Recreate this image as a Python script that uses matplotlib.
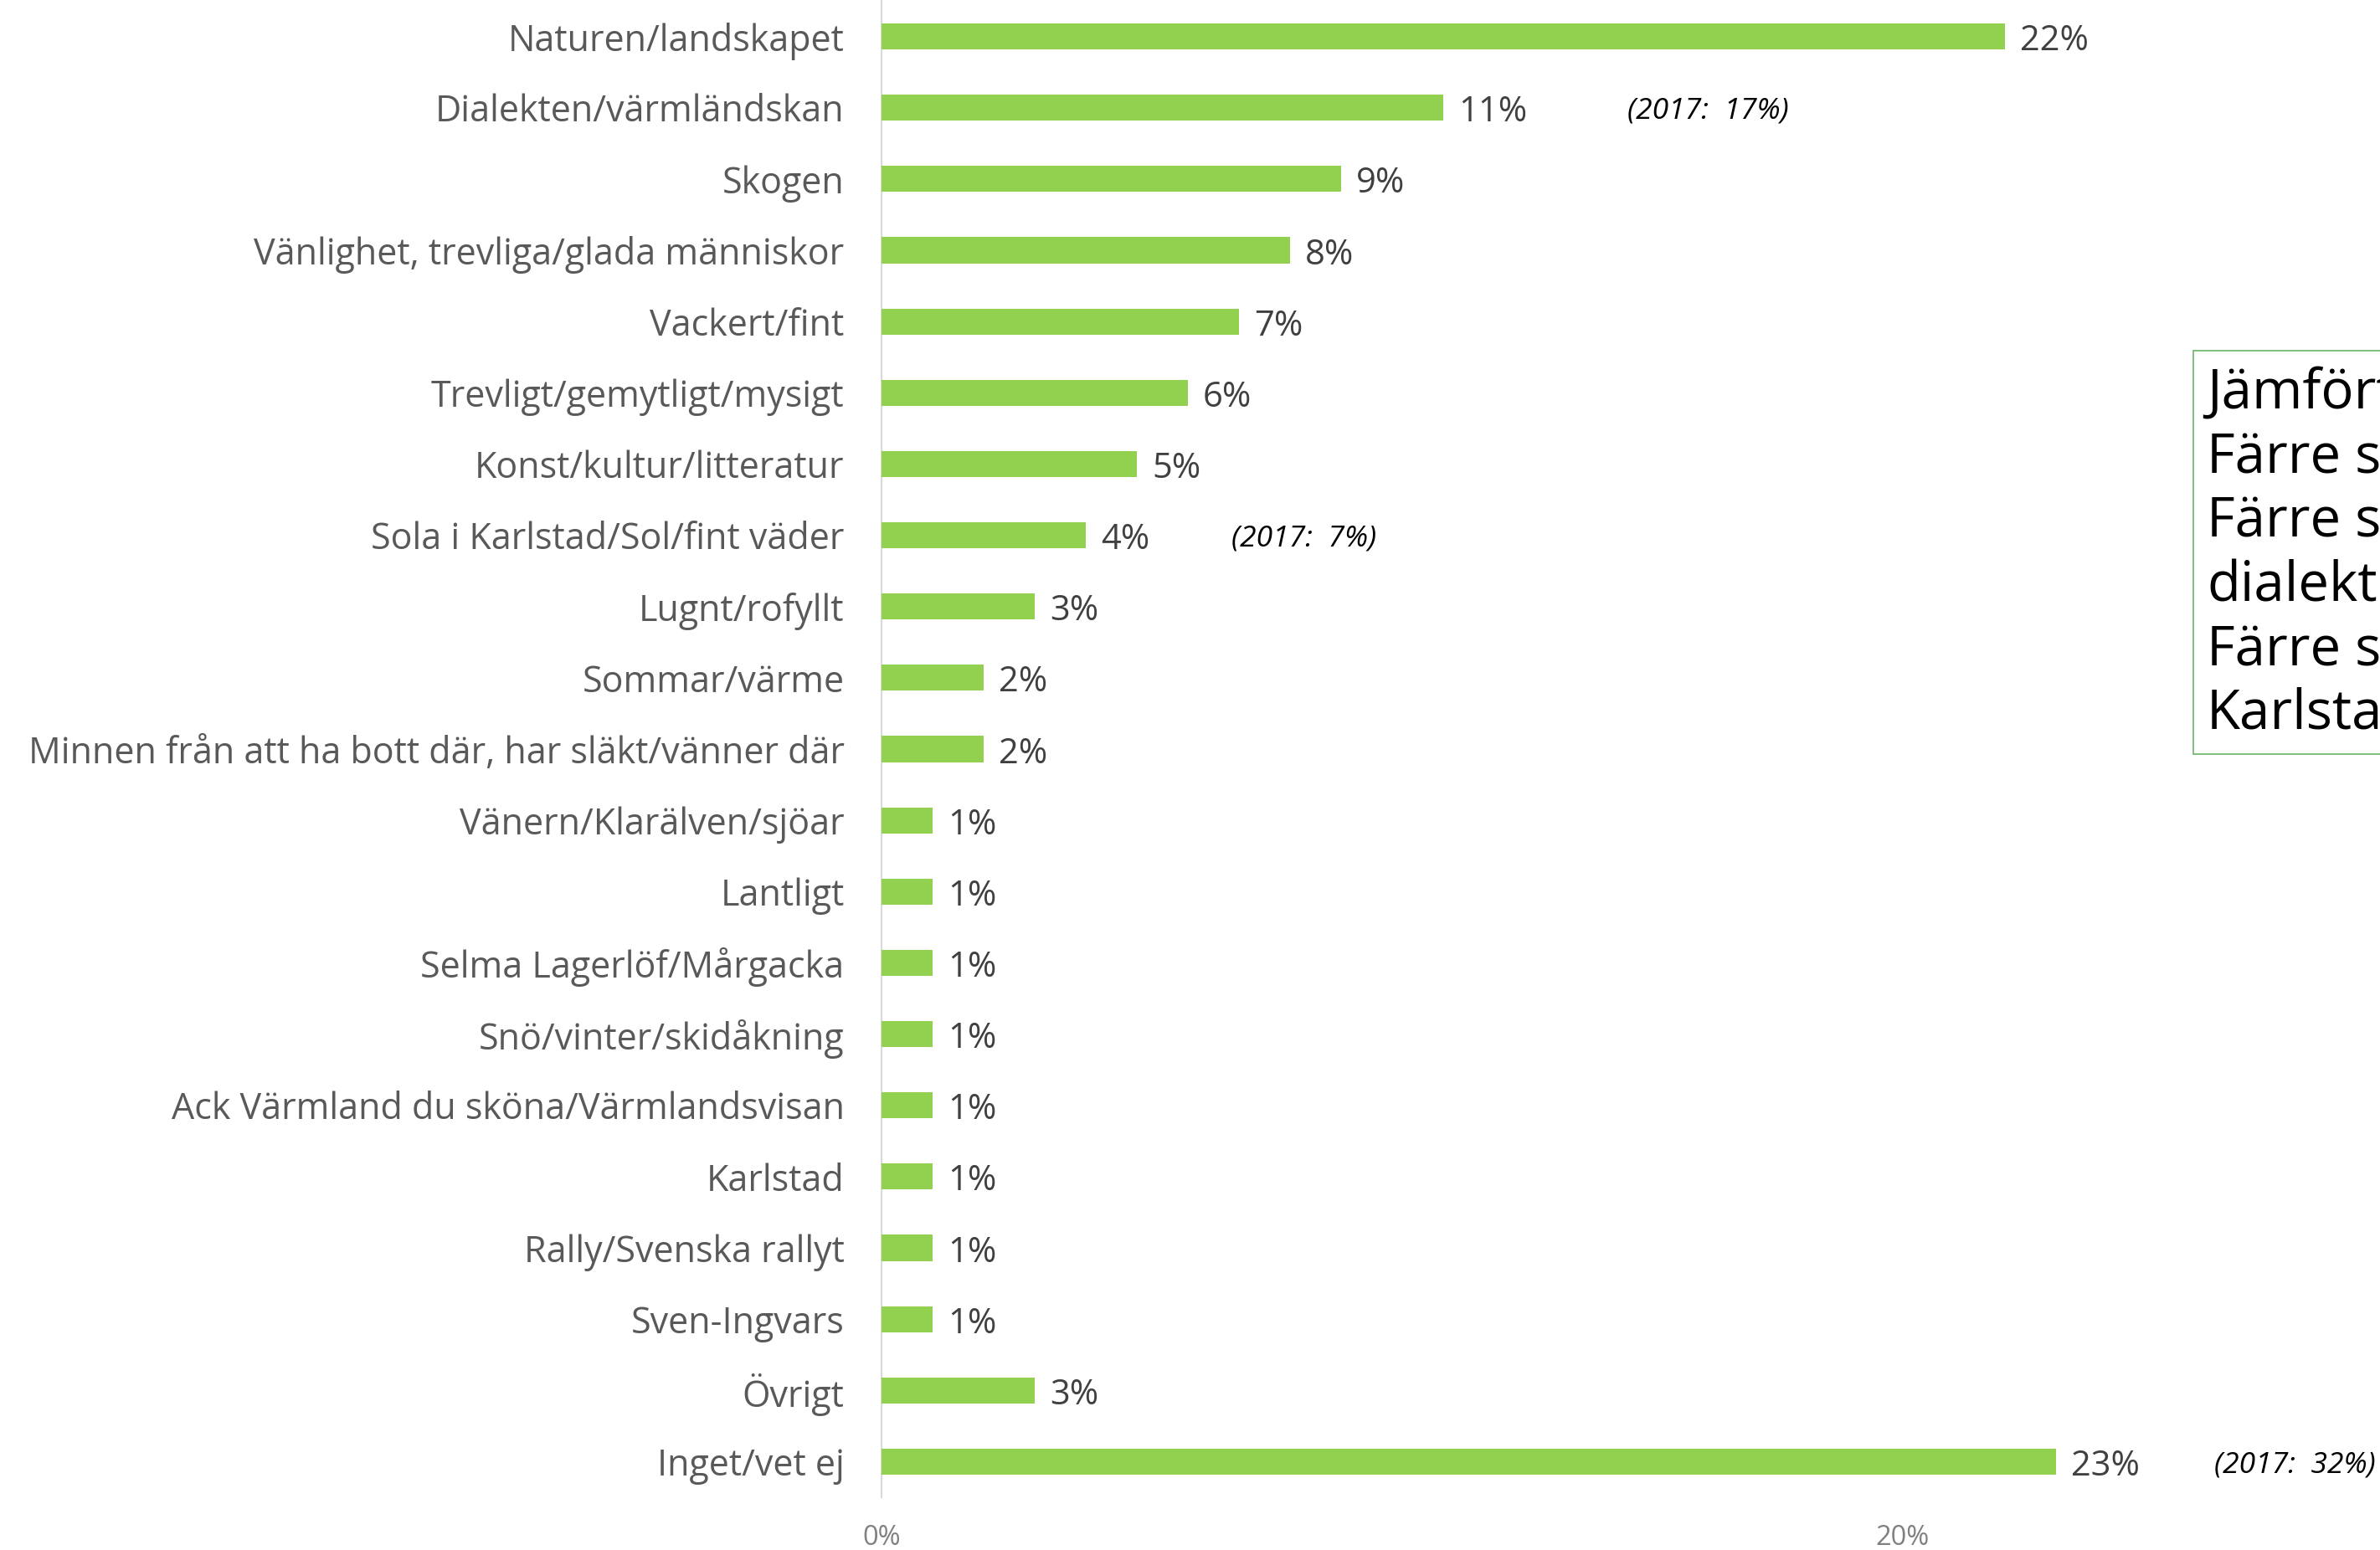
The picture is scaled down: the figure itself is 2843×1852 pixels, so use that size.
#!/usr/bin/env python3
"""Horizontal bar chart: associations with Värmland."""
import matplotlib
matplotlib.use('Agg')
import matplotlib.pyplot as plt
from matplotlib.patches import Rectangle
import numpy as np

plt.rcParams['font.family'] = ['Open Sans', 'DejaVu Sans']

categories = [
    'Naturen/landskapet',
    'Dialekten/värmländskan',
    'Skogen',
    'Vänlighet, trevliga/glada människor',
    'Vackert/fint',
    'Trevligt/gemytligt/mysigt',
    'Konst/kultur/litteratur',
    'Sola i Karlstad/Sol/fint väder',
    'Lugnt/rofyllt',
    'Sommar/värme',
    'Minnen från att ha bott där, har släkt/vänner där',
    'Vänern/Klarälven/sjöar',
    'Lantligt',
    'Selma Lagerlöf/Mårgacka',
    'Snö/vinter/skidåkning',
    'Ack Värmland du sköna/Värmlandsvisan',
    'Karlstad',
    'Rally/Svenska rallyt',
    'Sven-Ingvars',
    'Övrigt',
    'Inget/vet ej',
]
values = [22, 11, 9, 8, 7, 6, 5, 4, 3, 2, 2, 1, 1, 1, 1, 1, 1, 1, 1, 3, 23]

# earlier-year comparison notes: (category, text, x position in %)
note_cats = ['Dialekten/värmländskan', 'Sola i Karlstad/Sol/fint väder', 'Inget/vet ej']
note_texts = ['(2017:  17%)', '(2017:  7%)', '(2017:  32%)']
note_x = [14.6, 6.85, 26.1]

box_lines = [
    'Jämfört med 2017:',
    'Färre säger inget/vet ej',
    'Färre säger',
    'dialekten/värmländskan',
    'Färre säger sol i',
    'Karlstad',
]

BAR_COLOR = '#92d050'
LABEL_COLOR = '#595959'
VALUE_COLOR = '#404040'
AXIS_COLOR = '#d9d9d9'
BOX_EDGE = '#7dbf7d'

W, H = 2843, 1852
fig = plt.figure(figsize=(W / 100, H / 100), dpi=100)
fig.patch.set_facecolor('white')

left, right = 1053, 3493      # 0% and 40% in pixels
top, bottom = 1, 1789
ax = fig.add_axes([left / W, 1 - bottom / H, (right - left) / W, (bottom - top) / H])

y = np.arange(len(categories))
bars = ax.barh(y, values, height=0.365, color=BAR_COLOR, edgecolor='none', zorder=3)

ax.set_xlim(0, 40)
ax.set_ylim(len(categories) - 0.5, -0.5)
ax.set_yticks(y)
ax.set_yticklabels(categories, fontsize=31, color=LABEL_COLOR)
ax.set_xticks([0, 20])
ax.set_xticklabels(['0%', '20%'], fontsize=23.5, color='#808080')
ax.tick_params(axis='y', length=0, pad=32)
ax.tick_params(axis='x', length=0, pad=23)

for s in ['top', 'right', 'bottom']:
    ax.spines[s].set_visible(False)
ax.spines['left'].set_color(AXIS_COLOR)
ax.spines['left'].set_linewidth(1.5)

for bar, v in zip(bars, values):
    ax.annotate(f'{v}%', (bar.get_width(), bar.get_y() + bar.get_height() / 2),
                xytext=(13, -4), textcoords='offset points', ha='left', va='center',
                fontsize=30, color=VALUE_COLOR)

for cat, txt, nx in zip(note_cats, note_texts, note_x):
    ax.annotate(txt, (nx, categories.index(cat)), xytext=(0, -3),
                textcoords='offset points', ha='left', va='center',
                fontsize=25.5, style='italic', color='black')

# comparison box, partly outside the slide crop
fig.add_artist(Rectangle((2620 / W, 1 - 901 / H), 600 / W, (901 - 419) / H,
                         transform=fig.transFigure, facecolor='white',
                         edgecolor=BOX_EDGE, linewidth=1.4, zorder=5))
for i, line in enumerate(box_lines):
    fig.text(2636 / W, 1 - (488 + i * 76.7) / H, line, ha='left', va='baseline',
             fontsize=47, color='black', zorder=6)

fig.savefig('out.png', dpi=100, facecolor='white')
